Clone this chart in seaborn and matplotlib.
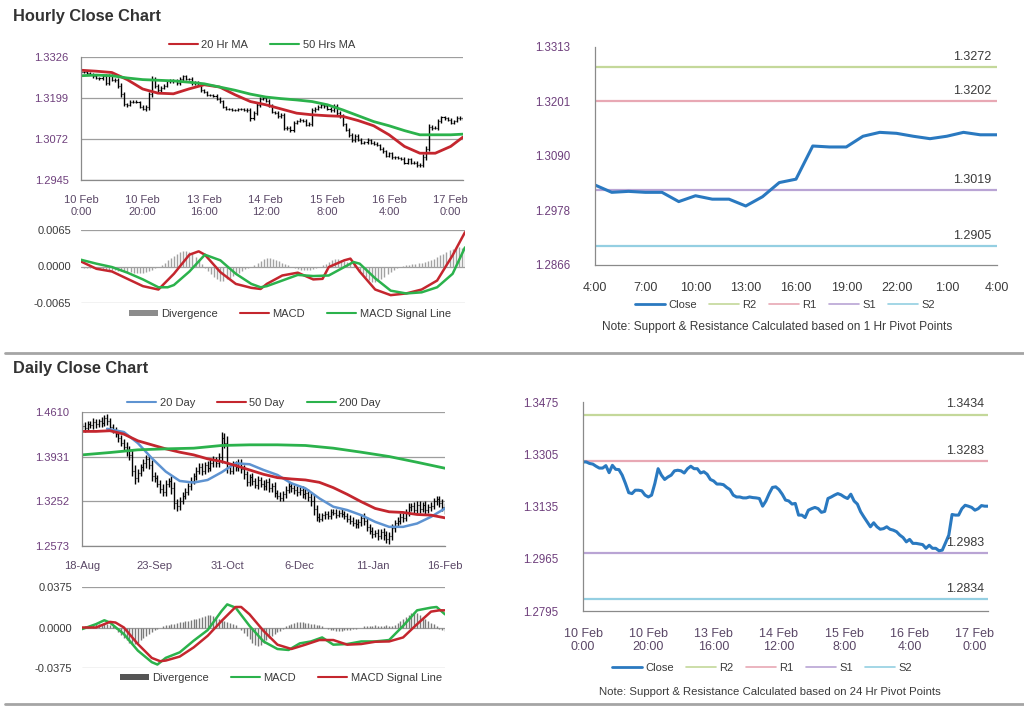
import matplotlib
matplotlib.use("Agg")
import matplotlib.pyplot as plt
from matplotlib.lines import Line2D
from matplotlib.patches import Patch
import seaborn as sns
import numpy as np

sns.set_style("white")
plt.rcParams['font.family'] = ['Liberation Sans', 'DejaVu Sans']

# ---------------- data: hourly ----------------
hourly_close = [1.3280, 1.3280, 1.3275, 1.3273, 1.3266, 1.3260, 1.3260, 1.3268, 1.3245, 1.3269,
                1.3256, 1.3255, 1.3237, 1.3210, 1.3180, 1.3177, 1.3188, 1.3188, 1.3186, 1.3172,
                1.3166, 1.3172, 1.3210, 1.3258, 1.3237, 1.3223, 1.3231, 1.3237, 1.3251, 1.3253,
                1.3251, 1.3244, 1.3258, 1.3266, 1.3258, 1.3258, 1.3244, 1.3248, 1.3240, 1.3223,
                1.3218, 1.3208, 1.3208, 1.3206, 1.3197, 1.3190, 1.3172, 1.3166, 1.3166, 1.3163,
                1.3163, 1.3166, 1.3164, 1.3163, 1.3161, 1.3136, 1.3153, 1.3177, 1.3197, 1.3199,
                1.3190, 1.3175, 1.3156, 1.3153, 1.3143, 1.3145, 1.3107, 1.3107, 1.3099, 1.3123,
                1.3128, 1.3132, 1.3128, 1.3116, 1.3119, 1.3161, 1.3166, 1.3172, 1.3177, 1.3173,
                1.3166, 1.3161, 1.3175, 1.3153, 1.3143, 1.3118, 1.3101, 1.3085, 1.3069, 1.3082,
                1.3069, 1.3061, 1.3063, 1.3069, 1.3061, 1.3058, 1.3053, 1.3042, 1.3034, 1.3020,
                1.3028, 1.3015, 1.3015, 1.3013, 1.3011, 1.2999, 1.3009, 1.2999, 1.2999, 1.2991,
                1.2993, 1.3017, 1.3042, 1.3109, 1.3107, 1.3107, 1.3128, 1.3139, 1.3136, 1.3132,
                1.3123, 1.3128, 1.3138, 1.3136, 1.3136]
# wick beyond the bar body, in pips
hourly_wick = [3, 4, 3, 3, 4, 3, 4, 5, 6, 5, 4, 5, 6, 8, 7, 5, 4, 4, 4, 5,
               5, 6, 9, 8, 6, 5, 4, 4, 5, 4, 5, 6, 5, 5, 4, 4, 5, 4, 5, 5,
               4, 4, 3, 4, 4, 5, 4, 3, 3, 3, 3, 3, 3, 3, 4, 7, 6, 6, 5, 5,
               4, 5, 5, 4, 5, 6, 8, 6, 5, 6, 4, 4, 3, 5, 5, 6, 4, 4, 5, 4,
               4, 5, 5, 6, 5, 6, 5, 6, 5, 5, 4, 5, 4, 5, 4, 4, 4, 5, 5, 4,
               5, 4, 4, 4, 4, 5, 5, 4, 5, 6, 5, 7, 9, 8, 6, 5, 6, 5, 4, 4,
               4, 4, 4, 4, 4]
hourly_xticklabels = ['10 Feb\n0:00', '10 Feb\n20:00', '13 Feb\n16:00', '14 Feb\n12:00',
                      '15 Feb\n8:00', '16 Feb\n4:00', '17 Feb\n0:00']

ma_bars = [0, 5, 10, 15, 20, 25, 30, 35, 40, 45, 50, 55, 60, 65, 70, 75, 80, 85, 90,
           95, 100, 105, 110, 115, 120, 124]
ma20_hr = [1.3285, 1.3282, 1.3278, 1.3256, 1.3227, 1.3214, 1.3212, 1.3227, 1.3240, 1.3233,
           1.3209, 1.3188, 1.3178, 1.3165, 1.3152, 1.3147, 1.3144, 1.3142, 1.3129, 1.3113,
           1.3085, 1.3049, 1.3028, 1.3028, 1.3049, 1.3078]
ma50_hr = [1.3268, 1.3270, 1.3268, 1.3261, 1.3256, 1.3254, 1.3252, 1.3248, 1.3243, 1.3233,
           1.3223, 1.3211, 1.3202, 1.3197, 1.3193, 1.3188, 1.3178, 1.3162, 1.3144, 1.3126,
           1.3113, 1.3098, 1.3085, 1.3085, 1.3085, 1.3087]

macd_hr_bars = [0, 5, 10, 15, 20, 25, 30, 35, 38, 40, 45, 50, 55, 58, 60, 65, 70, 75, 78,
                80, 85, 87, 90, 95, 100, 105, 110, 115, 120, 124]
macd_hr = [0.00089, -0.00041, -0.00089, -0.0022, -0.0035, -0.0041, -0.0013, 0.0021, 0.0027,
           0.0021, -0.0010, -0.0031, -0.0038, -0.0040, -0.0031, -0.0016, -0.0011, -0.0023,
           -0.0022, -0.0001, 0.0011, 0.0014, -0.0009, -0.0041, -0.0051, -0.0048, -0.0041,
           -0.0025, 0.0020, 0.0061]
signal_hr_bars = [0, 5, 10, 15, 20, 25, 28, 30, 35, 40, 45, 50, 55, 58, 60, 65, 70, 75, 80,
                  85, 88, 90, 95, 100, 105, 110, 115, 120, 124]
signal_hr = [0.0012, 0.0005, -0.0001, -0.0011, -0.0023, -0.0037, -0.0037, -0.0033, -0.0009,
             0.0021, 0.0011, -0.0013, -0.0031, -0.0037, -0.0035, -0.0025, -0.0015, -0.0017,
             -0.0016, -0.0001, 0.0008, 0.0005, -0.0021, -0.0043, -0.0048, -0.0046, -0.0037,
             -0.0013, 0.0034]
# divergence, in units of 0.0001
div_hr = [-1, -2, -2, -3, -3,
          -4, -5, -6, -6, -7, -7, -7, -8, -8, -8,
          -9, -10, -11, -12, -12, -11, -10, -8, -6, -3,
          0, 3, 7, 11, 15, 19, 23, 26, 27, 27, 25, 22, 17, 11, 5,
          -2, -8, -14, -19, -23, -25, -25, -23, -20, -17, -14, -11, -8, -5, -3, -1,
          2, 6, 10, 13, 15, 15, 14, 12, 9, 6, 4, 2, 0,
          -2, -4, -6, -7, -7, -6, -5, -3, -1,
          2, 5, 8, 11, 13, 13, 12, 10, 8, 5, 2,
          -3, -8, -13, -19, -24, -28, -28, -26, -22, -18, -14, -10, -6, -3, -1,
          1, 2, 3, 4, 5, 6, 7, 8, 10, 12, 14, 17, 20, 23, 26, 29, 31, 33, 34, 33, 30]

# last 24 hours, 1 Hr pivot chart
pivot1_close = [1.3030, 1.3015, 1.3017, 1.3015, 1.3015, 1.2996, 1.3008, 1.3001, 1.3001,
                1.2987, 1.3006, 1.3035, 1.3042, 1.3110, 1.3108, 1.3108, 1.3130, 1.3138,
                1.3136, 1.3130, 1.3125, 1.3130, 1.3138, 1.3133, 1.3133]
pivot1_xticklabels = ['4:00', '7:00', '10:00', '13:00', '16:00', '19:00', '22:00', '1:00', '4:00']
pivot1_levels = {'R2': 1.3272, 'R1': 1.3202, 'S1': 1.3019, 'S2': 1.2905}
pivot24_levels = {'R2': 1.3434, 'R1': 1.3283, 'S1': 1.2983, 'S2': 1.2834}

# ---------------- data: daily ----------------
daily_close = [1.440, 1.436, 1.443, 1.441, 1.446, 1.442, 1.447, 1.444, 1.452, 1.447, 1.438,
               1.433, 1.428, 1.421, 1.414, 1.408, 1.401, 1.396, 1.372, 1.360,
               1.368, 1.377, 1.383, 1.389, 1.380, 1.364,
               1.360, 1.352, 1.344, 1.340, 1.352, 1.356, 1.345, 1.322,
               1.318, 1.326, 1.334,
               1.340, 1.348, 1.356, 1.364, 1.372, 1.378, 1.371, 1.380, 1.376, 1.384, 1.388, 1.383, 1.392,
               1.421, 1.414, 1.378,
               1.372, 1.381, 1.377, 1.384, 1.374, 1.366,
               1.354, 1.362, 1.356, 1.350, 1.357, 1.352, 1.348, 1.354,
               1.345, 1.348, 1.338, 1.334, 1.331, 1.336,
               1.343, 1.349, 1.345, 1.342, 1.340,
               1.342, 1.336, 1.338, 1.332, 1.326, 1.314,
               1.302, 1.299, 1.304,
               1.306, 1.303, 1.309, 1.308, 1.305, 1.308, 1.306, 1.303, 1.299, 1.296,
               1.292, 1.290, 1.294, 1.300, 1.296, 1.286, 1.280, 1.276, 1.277,
               1.273, 1.278, 1.274, 1.268, 1.272, 1.284,
               1.292, 1.296, 1.302, 1.300, 1.309, 1.316, 1.318,
               1.312, 1.320, 1.314, 1.319, 1.312, 1.316, 1.318, 1.326,
               1.328, 1.322, 1.316, 1.312]
# wick beyond the bar body, in units of 0.001
daily_wick = [5, 6, 4, 5, 6, 5, 4, 6, 5, 6, 5, 4, 5, 6, 5, 6, 7, 8, 9, 8,
              6, 5, 6, 7, 6, 8, 6, 5, 6, 7, 6, 5, 8, 9, 7, 6, 5, 6, 5, 6,
              5, 6, 5, 6, 5, 6, 5, 6, 5, 6, 9, 8, 10, 6, 5, 6, 5, 6, 7, 6,
              5, 6, 5, 6, 5, 6, 5, 6, 5, 6, 5, 6, 5, 6, 5, 6, 5, 6, 5, 6,
              7, 6, 8, 9, 6, 5, 4, 5, 4, 5, 4, 5, 4, 5, 4, 5, 6, 5, 6, 5,
              6, 7, 6, 5, 6, 5, 6, 5, 7, 6, 7, 6, 5, 6, 5, 6, 5, 6, 5, 6,
              5, 6, 5, 6, 5, 6, 5, 6, 5, 6, 6]
daily_xticklabels = ['18-Aug', '23-Sep', '31-Oct', '6-Dec', '11-Jan', '16-Feb']

ma20d_bars = [9, 15, 20, 25, 30, 35, 40, 45, 50, 55, 60, 65, 70, 75, 80, 85, 90, 95, 100,
              105, 110, 115, 120, 125, 130]
ma20_day = [1.4355, 1.4305, 1.4137, 1.3908, 1.3704, 1.3562, 1.3537, 1.3577, 1.3694, 1.3831,
            1.3816, 1.3729, 1.3653, 1.3526, 1.3450, 1.3297, 1.3170, 1.3119, 1.3042, 1.2940,
            1.2864, 1.2864, 1.2915, 1.3017, 1.3144]
ma50d_bars = [0, 5, 10, 15, 20, 25, 30, 35, 40, 45, 50, 55, 60, 65, 70, 75, 80, 85, 90, 95,
              100, 105, 110, 115, 120, 125, 130]
ma50_day = [1.4315, 1.4315, 1.4325, 1.4274, 1.4172, 1.4111, 1.4050, 1.3999, 1.3958, 1.3898,
            1.3857, 1.3796, 1.3729, 1.3663, 1.3612, 1.3592, 1.3577, 1.3541, 1.3460, 1.3358,
            1.3246, 1.3144, 1.3093, 1.3083, 1.3052, 1.3042, 1.3001]
ma200d_bars = [0, 10, 20, 30, 40, 50, 60, 70, 80, 90, 100, 110, 120, 130]
ma200_day = [1.3958, 1.3994, 1.4035, 1.4050, 1.4060, 1.4101, 1.4111, 1.4111, 1.4101, 1.4060,
             1.3999, 1.3933, 1.3846, 1.3755]

macd_d_bars = [0, 5, 8, 10, 15, 20, 25, 27, 30, 35, 40, 45, 50, 52, 55, 60, 65, 70, 74, 78,
               82, 86, 90, 95, 100, 105, 110, 115, 120, 125, 127, 130]
macd_day = [-0.0015, 0.0031, 0.0067, 0.0046, -0.0061, -0.0214, -0.0321, -0.0343, -0.0281,
            -0.0230, -0.0122, -0.0024, 0.0153, 0.0214, 0.0184, 0.0015, -0.0129, -0.0199,
            -0.0208, -0.0147, -0.0129, -0.0092, -0.0159, -0.0153, -0.0129, -0.0129, -0.0116,
            0.0015, 0.0159, 0.0184, 0.0190, 0.0122]
signal_d_bars = [0, 5, 10, 12, 15, 20, 25, 28, 30, 35, 40, 45, 50, 55, 57, 60, 65, 70, 75,
                 80, 85, 90, 95, 100, 105, 110, 115, 120, 125, 128, 130]
signal_day = [0.0, 0.0, 0.0052, 0.0046, 0.0, -0.0153, -0.0282, -0.0312, -0.0306, -0.0269,
              -0.0184, -0.0077, 0.0061, 0.0190, 0.0190, 0.0122, -0.0031, -0.0159, -0.0199,
              -0.0159, -0.0116, -0.0116, -0.0159, -0.0153, -0.0132, -0.0129, -0.0092, 0.0031,
              0.0147, 0.0159, 0.0159]
# divergence, in units of 0.001
div_day = [0, 1, 1, 2, 2, 3, 3, 3, 4, 3, 2, 1,
           -1, -4, -7, -10, -12, -14, -15, -15, -14, -12, -10, -8, -6, -4, -2,
           -1, 0, 1, 2, 2,
           3, 3, 4, 5, 5, 6, 6, 7, 8, 8, 9, 10, 11, 12, 12, 11, 10, 8,
           7, 6, 5, 4, 3, 2, 0, -2,
           -5, -8, -11, -14, -16, -17, -16, -14, -12, -10, -8, -6, -4, -3, -1,
           1, 2, 3, 4, 5, 5, 5, 4, 4, 3, 3, 2, 2, 1, 0,
           -1, -2, -2, -3, -3, -3, -2, -2, -2, -1, -1, 0, 0,
           1, 1, 1, 1, 2, 1, 1, 1, 2, 1, 1,
           2, 4, 6, 8, 10, 12, 13, 14, 13, 12, 10, 8, 6, 4, 3,
           1, -1, -2, -3]

# ---------------- styling ----------------
RED = '#C4262E'
GREEN = '#2BB24C'
BLUE_MA = '#5E93D1'
CLOSE_BLUE = '#2A79C0'
LEVEL_COLORS = {'R2': '#C4D89A', 'R1': '#E8A8B4', 'S1': '#B9A4D4', 'S2': '#94CFE2'}
GRID = '#9E9E9E'
SPINE = '#8A8A8A'
PURPLE = '#6E3F7C'
XLAB = '#5A4766'
DARK = '#3A3A3A'
FS = 8

fig = plt.figure(figsize=(10.24, 7.06), dpi=100)


def add_ax(x0, y0, x1, y1):
    return fig.add_axes([x0 / 1024, 1 - y1 / 706, (x1 - x0) / 1024, (y1 - y0) / 706])


def fig_legend(handles, labels, cx, cy, ncol, spacing=2.0, hl=2.6):
    fig.legend(handles, labels, loc='center', bbox_to_anchor=(cx / 1024, 1 - cy / 706),
               ncol=ncol, frameon=False, fontsize=FS, handlelength=hl, handleheight=0.5,
               columnspacing=spacing, handletextpad=0.3, labelcolor=DARK)


def ohlc(ax, close, wick, unit, lw):
    close = np.asarray(close)
    x = np.arange(len(close))
    opn = np.r_[close[0], close[:-1]]
    hi = np.maximum(opn, close) + np.asarray(wick) * unit
    lo = np.minimum(opn, close) - np.asarray(wick) * unit
    ax.vlines(x, lo, hi, color='black', lw=lw)
    ax.hlines(opn, x - 0.35, x, color='black', lw=lw * 0.8)
    ax.hlines(close, x, x + 0.35, color='black', lw=lw * 0.8)


def divergence(ax, values, unit, color):
    x = np.arange(len(values))
    ax.vlines(x, 0, np.asarray(values) * unit, color=color, lw=1.0)


def price_axes(ax, ticks, xticks, xlabels):
    ax.set_ylim(ticks[0], ticks[-1])
    ax.set_yticks(ticks)
    ax.set_yticklabels([f'{t:.4f}' for t in ticks])
    ax.set_xticks(xticks)
    ax.set_xticklabels(xlabels)
    ax.grid(axis='y', color=GRID, lw=0.9)
    ax.grid(axis='x', visible=False)
    ax.set_axisbelow(True)
    for s in ['top', 'right']:
        ax.spines[s].set_visible(False)
    for s in ['left', 'bottom']:
        ax.spines[s].set_color(SPINE)
        ax.spines[s].set_linewidth(0.9)
    ax.tick_params(axis='both', direction='out', length=4, width=0.8, color=SPINE,
                   labelsize=FS)
    ax.tick_params(axis='y', labelcolor=PURPLE, pad=5)
    ax.tick_params(axis='x', labelcolor=XLAB, pad=7)
    ax.set_xlabel('')
    ax.set_ylabel('')


def macd_axes(ax, lim, n):
    ax.set_ylim(-lim, lim)
    ax.set_yticks([-lim, 0, lim])
    ax.set_yticklabels([f'{-lim:.4f}', '0.0000', f'{lim:.4f}'])
    ax.set_xlim(0, n)
    ax.set_xticks([])
    ax.grid(axis='y', color=GRID, lw=0.9)
    ax.grid(axis='x', visible=False)
    ax.set_axisbelow(True)
    for s in ax.spines.values():
        s.set_visible(False)
    ax.tick_params(axis='y', length=0, labelsize=FS, labelcolor=DARK, pad=7)
    ax.set_xlabel('')
    ax.set_ylabel('')


def pivot_axes(ax, close, levels, ticks, xticks, xlabels, xlab_color, text_x):
    x = np.arange(len(close))
    for name, val in levels.items():
        ax.axhline(val, color=LEVEL_COLORS[name], lw=1.6)
        ax.annotate(f'{val:.4f}', xy=(text_x, val), xycoords=('axes fraction', 'data'),
                    xytext=(0, 3), textcoords='offset points', ha='right', va='bottom',
                    fontsize=9, color=DARK)
    sns.lineplot(x=x, y=close, ax=ax, color=CLOSE_BLUE, lw=2.2)
    ax.set_xlim(0, x[-1])
    ax.set_ylim(ticks[0], ticks[-1])
    ax.set_yticks(ticks)
    ax.set_yticklabels([f'{t:.4f}' for t in ticks])
    ax.set_xticks(xticks)
    ax.set_xticklabels(xlabels)
    ax.grid(False)
    for s in ['top', 'right']:
        ax.spines[s].set_visible(False)
    for s in ['left', 'bottom']:
        ax.spines[s].set_color(SPINE)
        ax.spines[s].set_linewidth(0.9)
    ax.tick_params(axis='both', direction='out', length=4, width=0.8, color=SPINE)
    ax.tick_params(axis='y', labelcolor=PURPLE, labelsize=8.3, pad=14)
    ax.tick_params(axis='x', labelcolor=xlab_color, labelsize=9, pad=8)
    ax.set_xlabel('')
    ax.set_ylabel('')


def pivot_legend(cx, cy):
    handles = [Line2D([], [], color=CLOSE_BLUE, lw=2)] + \
              [Line2D([], [], color=LEVEL_COLORS[k], lw=1.2) for k in ['R2', 'R1', 'S1', 'S2']]
    fig_legend(handles, ['Close', 'R2', 'R1', 'S1', 'S2'], cx, cy, 5, spacing=1.1, hl=2.7)


# ---------------- titles and separators ----------------
fig.text(13 / 1024, 1 - 16 / 706, 'Hourly Close Chart', fontsize=11.8, fontweight='bold',
         color='#333333', va='center')
fig.text(13 / 1024, 1 - 369 / 706, 'Daily Close Chart', fontsize=11.8, fontweight='bold',
         color='#333333', va='center')
fig.add_artist(Line2D([5 / 1024, 1.0], [1 - 353 / 706] * 2, color='#A5A5A5', lw=2))
fig.add_artist(Line2D([5 / 1024, 1.0], [1 - 704 / 706] * 2, color='#A5A5A5', lw=2))

# ---------------- hourly price ----------------
n_hr = len(hourly_close) - 1
ax1 = add_ax(81, 57, 463, 180)
ohlc(ax1, hourly_close, hourly_wick, 0.0001, 1.0)
sns.lineplot(x=ma_bars, y=ma20_hr, ax=ax1, color=RED, lw=2.0)
sns.lineplot(x=ma_bars, y=ma50_hr, ax=ax1, color=GREEN, lw=2.0)
ax1.set_xlim(0, n_hr)
price_axes(ax1, [1.2945, 1.3072, 1.3199, 1.3326], list(range(0, 121, 20)), hourly_xticklabels)
fig_legend([Line2D([], [], color=RED, lw=1.5), Line2D([], [], color=GREEN, lw=1.5)],
           ['20 Hr MA', '50 Hrs MA'], 262, 45, 2)

# ---------------- hourly MACD ----------------
ax2 = add_ax(81, 230, 465, 303)
divergence(ax2, div_hr, 0.0001, '#A2A2A2')
sns.lineplot(x=macd_hr_bars, y=macd_hr, ax=ax2, color=RED, lw=1.8)
sns.lineplot(x=signal_hr_bars, y=signal_hr, ax=ax2, color=GREEN, lw=1.8)
macd_axes(ax2, 0.0065, n_hr)
fig_legend([Patch(facecolor='#8C8C8C', edgecolor='none'), Line2D([], [], color=RED, lw=1.5),
            Line2D([], [], color=GREEN, lw=1.5)],
           ['Divergence', 'MACD', 'MACD Signal Line'], 290, 314, 3)

# ---------------- hourly pivot ----------------
ax3 = add_ax(595, 47, 997, 265)
pivot_axes(ax3, pivot1_close, pivot1_levels, [1.2866, 1.2978, 1.3090, 1.3201, 1.3313],
           list(range(0, 25, 3)), pivot1_xticklabels, DARK, 0.985)
pivot_legend(785, 305)
fig.text(777 / 1024, 1 - 327 / 706,
         'Note: Support & Resistance Calculated based on 1 Hr Pivot Points',
         ha='center', va='center', fontsize=8.6, color=DARK)

# ---------------- daily price ----------------
n_d = len(daily_close) - 1
ax4 = add_ax(82, 412, 445, 546)
ohlc(ax4, daily_close, daily_wick, 0.001, 1.0)
sns.lineplot(x=ma20d_bars, y=ma20_day, ax=ax4, color=BLUE_MA, lw=1.8)
sns.lineplot(x=ma50d_bars, y=ma50_day, ax=ax4, color=RED, lw=2.0)
sns.lineplot(x=ma200d_bars, y=ma200_day, ax=ax4, color=GREEN, lw=2.0)
ax4.set_xlim(0, n_d)
price_axes(ax4, [1.2573, 1.3252, 1.3931, 1.4610], list(range(0, 131, 26)), daily_xticklabels)
fig_legend([Line2D([], [], color=BLUE_MA, lw=1.5), Line2D([], [], color=RED, lw=1.5),
            Line2D([], [], color=GREEN, lw=1.5)],
           ['20 Day', '50 Day', '200 Day'], 254, 403, 3)

# ---------------- daily MACD ----------------
ax5 = add_ax(82, 587, 445, 668)
divergence(ax5, div_day, 0.001, '#7A7A7A')
sns.lineplot(x=macd_d_bars, y=macd_day, ax=ax5, color=GREEN, lw=1.8)
sns.lineplot(x=signal_d_bars, y=signal_day, ax=ax5, color=RED, lw=1.8)
macd_axes(ax5, 0.0375, n_d)
fig_legend([Patch(facecolor='#555555', edgecolor='none'), Line2D([], [], color=GREEN, lw=1.5),
            Line2D([], [], color=RED, lw=1.5)],
           ['Divergence', 'MACD', 'MACD Signal Line'], 281, 678, 3)

# ---------------- 24 hr pivot ----------------
ax6 = add_ax(583, 402, 988, 611)
pivot_axes(ax6, hourly_close, pivot24_levels, [1.2795, 1.2965, 1.3135, 1.3305, 1.3475],
           list(range(0, 121, 20)), hourly_xticklabels, XLAB, 0.99)
pivot_legend(762, 668)
fig.text(770 / 1024, 1 - 692 / 706,
         'Note: Support & Resistance Calculated based on 24 Hr Pivot Points',
         ha='center', va='center', fontsize=8.2, color=DARK)

fig.savefig('out.png', dpi=100, facecolor='white')
